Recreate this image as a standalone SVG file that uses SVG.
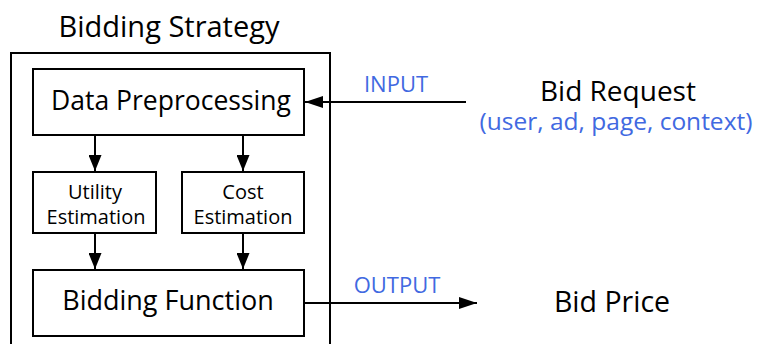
<svg xmlns="http://www.w3.org/2000/svg" width="759" height="344" viewBox="0 0 759 344">
<defs>
<marker id="ah" viewBox="0 0 16 13" refX="16" refY="6.5" markerWidth="16" markerHeight="13" markerUnits="userSpaceOnUse" orient="auto">
<path d="M0,0 L16,6.5 L0,13 z" fill="#000"/>
</marker>
<marker id="ahb" viewBox="0 0 18 12" refX="18" refY="6" markerWidth="18" markerHeight="12" markerUnits="userSpaceOnUse" orient="auto">
<path d="M0,0 L18,6 L0,12 z" fill="#000"/>
</marker>
</defs>
<style>
.box{fill:#fff;stroke:#000;stroke-width:2}
.t{font-family:"Open Sans","Liberation Sans",sans-serif;fill:#000;text-anchor:middle}
.b{font-family:"Open Sans","Liberation Sans",sans-serif;fill:#4169e1;text-anchor:middle}
.c{stroke:#000;stroke-width:2;fill:none}
</style>
<rect width="759" height="344" fill="#fff"/>
<g id="strategy">
<rect x="11" y="53" width="319" height="300" fill="none" stroke="#000" stroke-width="2"/>
<text class="t" x="169" y="37" font-size="29">Bidding Strategy</text>
</g>
<g id="connectors">
<line class="c" x1="95" y1="135" x2="95" y2="171" marker-end="url(#ah)"/>
<line class="c" x1="243" y1="135" x2="243" y2="171" marker-end="url(#ah)"/>
<line class="c" x1="95" y1="233" x2="95" y2="269" marker-end="url(#ah)"/>
<line class="c" x1="243" y1="233" x2="243" y2="269" marker-end="url(#ah)"/>
<line class="c" x1="466" y1="102" x2="305" y2="102" marker-end="url(#ahb)"/>
<line class="c" x1="304" y1="303" x2="477" y2="303" marker-end="url(#ahb)"/>
<text class="b" x="396" y="92" font-size="22">INPUT</text>
<text class="b" x="397" y="293" font-size="22">OUTPUT</text>
</g>
<g id="data-preprocessing">
<rect class="box" x="33" y="69" width="271" height="66"/>
<text class="t" x="171" y="110" font-size="26.5">Data Preprocessing</text>
</g>
<g id="utility-estimation">
<rect class="box" x="33" y="172" width="123" height="61"/>
<text class="t" x="95" y="199" font-size="20">Utility</text>
<text class="t" x="96" y="224" font-size="20">Estimation</text>
</g>
<g id="cost-estimation">
<rect class="box" x="182" y="172" width="122" height="61"/>
<text class="t" x="243" y="199" font-size="20">Cost</text>
<text class="t" x="243" y="224" font-size="20">Estimation</text>
</g>
<g id="bidding-function">
<rect class="box" x="33" y="270" width="271" height="66"/>
<text class="t" x="168" y="310" font-size="27">Bidding Function</text>
</g>
<g id="bid-request">
<text class="t" x="618" y="101" font-size="28">Bid Request</text>
<text class="b" x="616" y="130" font-size="24.5">(user, ad, page, context)</text>
</g>
<g id="bid-price">
<text class="t" x="612" y="312" font-size="28.5">Bid Price</text>
</g>
</svg>
